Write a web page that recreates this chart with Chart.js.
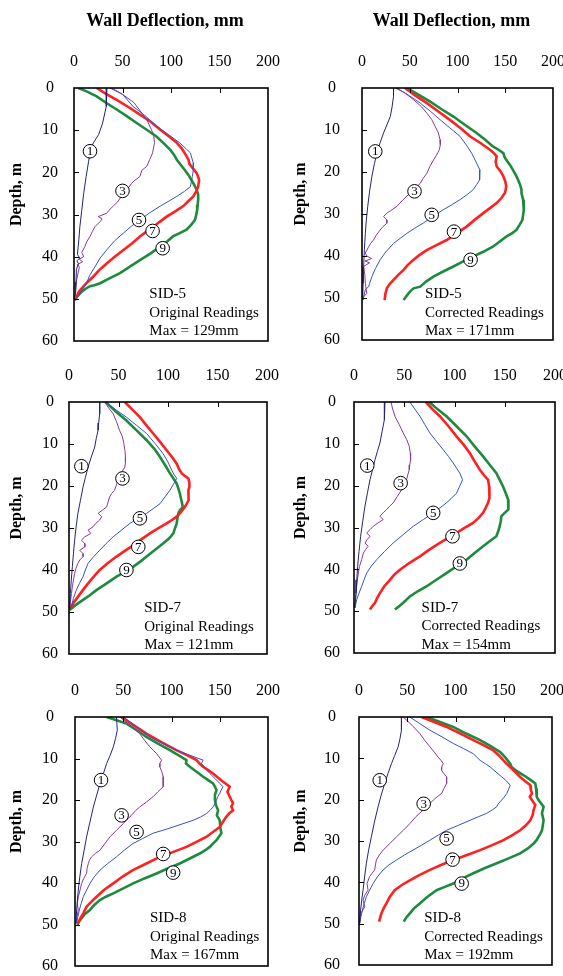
<!DOCTYPE html>
<html>
<head>
<meta charset="utf-8">
<script src="https://cdn.jsdelivr.net/npm/chart.js@4.4.1/dist/chart.umd.min.js"></script>
<style>
  html, body { margin: 0; padding: 0; background: #fff; }
  body { width: 563px; height: 976px; position: relative; overflow: hidden; }
  canvas { position: absolute; }
</style>
</head>
<body>
<canvas id="p1"></canvas>
<canvas id="p2"></canvas>
<canvas id="p3"></canvas>
<canvas id="p4"></canvas>
<canvas id="p5"></canvas>
<canvas id="p6"></canvas>
<script>
// ---- data: [deflection mm, depth m] ----
const curveNames = ['1', '3', '5', '7', '9'];
const xTicks = [0, 50, 100, 150, 200];
const yTicks = [0, 10, 20, 30, 40, 50, 60];

// SID-5 original
const sid5o_c1 = [[34,0],[33.5,2],[33,4.4],[29.5,8.3],[25.5,11],[20,13],[17,14.5],[15,17.5],[12.5,21],[10,25],[8,29],[6,33],[5,36],[3.5,39.5],[6,40.3],[3,41],[4.5,41.6],[2.5,43],[2,46],[1.4,48.7],[0,50]];
const sid5o_c3 = [[37,0],[50,1.5],[62,3.5],[75,7.5],[82,11],[83,13],[81,15.4],[78,17],[75,18.6],[70,19.5],[68,21],[62,22],[59.5,22.6],[55,24],[51,25],[45,27],[40.5,28],[36,29],[33.7,29.7],[25,30.5],[29,31],[27,31.7],[24,32.3],[21.6,32.9],[19,34],[16.5,35.2],[13,36.5],[11.3,37.6],[8,39],[10,40],[5.5,40.6],[9,41.2],[4,41.8],[5.5,42.5],[2.7,45.5],[1.4,49.5]];
const sid5o_c5 = [[39,0],[50,1.5],[61,4.4],[73,6.5],[85,9],[97,11],[109,13],[116,14.5],[120,15.4],[123,17.8],[123,19.5],[122,21],[120,23.4],[114,24.5],[106,25.7],[98,26.8],[89,28],[78,29.6],[68,31.3],[59,32.8],[51,34.4],[42,36.2],[33.7,38.4],[27,40.3],[21.6,42.4],[16,44.5],[13,46.3],[8,48],[6,48.7],[1,50.3]];
const sid5o_c7 = [[23.4,0],[33,1.4],[44,2.8],[56,4.5],[68,6.3],[79,8],[89,9.9],[98,11.5],[106,13],[111,14.3],[114,15.4],[118,17],[119,18],[121,18.6],[126.5,20.2],[129,21.8],[128,23.4],[126,24.5],[123,25.7],[118,26.8],[112.7,28],[104,29.3],[95.5,30.5],[88,31.8],[82,32.9],[75,34],[68,35.2],[60,36.8],[51,38.4],[42,40],[33.7,41.6],[26,43.2],[20,44.7],[14,46],[9.6,47.1],[5,48.3],[2.7,49.5],[0.7,50.3]];
const sid5o_c9 = [[4.5,0],[13,0.8],[23.4,2],[33,3.5],[44,5.1],[54,6.6],[64.6,8.3],[75,9.9],[85,11.5],[92,13],[99,14.6],[103,15.8],[106,17],[110,18.2],[114,19.4],[118,20.6],[121,21.8],[124,23],[126.5,24.1],[128,25.3],[128,26.5],[127.5,27.7],[127,28.9],[126,30.1],[124.7,31.3],[121,32.4],[116,33.6],[109,34.4],[102,35.2],[96,36.4],[89,37.6],[79,39.2],[68,40.8],[58,42.3],[47.4,43.9],[37,45.1],[27,46.3],[21,46.8],[16.5,47],[12,47.6],[8,48.3],[4,49.3],[1,50.3]];
const sid5o_labels = [[16.5,15],[50,24.4],[67,31.3],[81,33.9],[91.4,38]];
const sid5o_note = ['SID-5', 'Original Readings', 'Max = 129mm'];
const sid5o_noteAt = [77.7, 48.9];

// SID-5 corrected
const sid5c_c1 = [[33,0],[33,2],[31.5,4.5],[29.6,6.8],[26,8.8],[22.6,10.7],[19,13],[15.7,15.5],[13,18],[10.4,21],[8,24.5],[6,28.2],[4.5,31.5],[3.5,34.6],[2.5,38.5],[1.7,42.5],[1.2,46.5],[0.7,50.5]];
const sid5c_c3 = [[35,0],[45,1.2],[54,2.8],[62,4.4],[68,6],[73,7.5],[76.5,9.1],[80,10.7],[81.7,12.3],[82,13.5],[81,14.7],[78,16],[75,17.1],[71,18.7],[68,20.3],[64,21.5],[61,22.7],[56,23.8],[50.4,25],[43,26.6],[36.5,28.2],[30,29.2],[26,29.8],[22.6,30.6],[26,31.4],[26,32.2],[22,33],[19,33.8],[15,35],[12,36.2],[9,37],[7,37.8],[3.5,39.3],[5,40],[10,40.6],[3,41.2],[8,41.6],[1.7,42.5],[3,44.5],[3.5,46.5],[5,48.9],[1.7,49.7]];
const sid5c_c5 = [[36.5,0],[48,1.6],[61,3.6],[72,5.6],[82,7.6],[92,9.5],[102.6,11.5],[109,13.5],[114.8,15.5],[117,16.5],[120,17.9],[123.5,19.5],[123.5,20.5],[122.8,21.9],[120,23],[116.5,24.2],[110,25.4],[102.6,26.6],[94,27.8],[85,29],[74,30.6],[64,32.2],[55,33.4],[47,34.6],[40,35.8],[33,37],[25,39],[19,40.9],[14,43],[10.4,44.9],[8,46.5],[7,47.3],[3.5,48],[1,50.5]];
const sid5c_c7 = [[45,0],[56,1.8],[68,3.6],[80,5.6],[92,7.6],[103,9.5],[113,11.5],[124,13.1],[134,14.7],[138,15.5],[141,16.3],[140,17.5],[141,18.7],[145,19.8],[148,21],[150,22.2],[151,23.4],[150.5,24.2],[149.6,25],[146,26.2],[141,27.4],[134,28.6],[127,29.8],[118,31.4],[109.6,33],[99,34.6],[88.7,36.2],[78,37.4],[67.8,38.6],[60,39.8],[54,40.9],[48,42.1],[43.5,43.3],[38,44.5],[33,45.7],[29,46.7],[26,47.7],[24.5,49],[23.7,50.5]];
const sid5c_c9 = [[47,0],[59,1.6],[71,3.2],[83,5],[95.7,6.8],[108,8.8],[120,10.7],[129,12.3],[137,13.9],[143,14.7],[148,15.5],[149,16.3],[151,17.1],[155,18.3],[158,19.5],[161,20.7],[163.5,21.9],[165.5,23],[167,24.2],[167,25],[168.7,26.6],[169.4,29],[168,31.4],[165,32.6],[161.7,33.8],[157,34.6],[151,35.4],[144,36.6],[137,37.8],[127,39],[116.5,40.1],[106,41.3],[95.7,42.5],[85,43.7],[74.8,44.9],[67,46.1],[61,47.3],[54,47.7],[51,48.3],[48.7,48.9],[43.5,50.5]];
const sid5c_labels = [[13.9,15.1],[55,24.6],[73,30.2],[96.3,34.2],[113.7,40.9]];
const sid5c_note = ['SID-5', 'Corrected Readings', 'Max = 171mm'];
const sid5c_noteAt = [66, 49.1];

// SID-7 original
const sid7o_c1 = [[31,0],[31,2.8],[30,5],[29.4,6.7],[27.5,8.7],[26,10.7],[22.5,13.1],[19.3,15.5],[16.5,18],[14.2,20.2],[11.5,23.5],[9,26.5],[7.2,29.7],[5.7,32.9],[4.5,36],[3.4,39.2],[2.3,42.4],[1.4,45.6],[0.7,49.4]];
const sid7o_c3 = [[36,0],[40,1.4],[44.6,2.8],[48,4.7],[51,6.7],[54,8.3],[55.4,9.9],[56.5,11.5],[57,13.1],[57,14.3],[56.4,15.5],[53.5,16.6],[51,17.8],[48.5,19.4],[46,21],[43,21.8],[41,22.6],[39.5,23.8],[38,25],[34,25.7],[29.4,26.5],[33,27.3],[31,28.1],[27,28.9],[24.3,29.7],[19.3,30.5],[22,31.3],[16,32.1],[12.5,32.9],[16,33.7],[16,34.5],[10.8,35.3],[14.2,36.1],[14.2,36.8],[11,37.6],[9,38.4],[7,39.6],[5.7,40.8],[4.5,42.4],[3.4,44],[2.5,45.6],[1.7,47.1],[0.7,49.1]];
const sid7o_c5 = [[37,0],[47,1.8],[58,3.6],[68,5.5],[78.4,7.5],[87,9.9],[95,12.3],[100,14.3],[103.7,16.2],[106,17.2],[108.8,18.2],[105.5,19.6],[102,21],[97,22.6],[92,24.2],[85,25.4],[78.4,26.5],[70,27.7],[61.5,28.9],[53,30.5],[44.6,32.1],[37.5,33.7],[31,35.3],[25,36.8],[19.3,38.4],[16.5,40],[14.2,41.6],[10.5,43.2],[7.4,44.8],[4.5,46.7],[2.4,48.7]];
const sid7o_c7 = [[56.4,0],[64,1.8],[71.6,3.6],[78,5.5],[85,7.5],[92,9.5],[98.6,11.5],[104,13.1],[108.8,14.7],[111,15.9],[113.9,17],[117,17.6],[120.6,18.2],[121.6,19.2],[121.6,20.2],[120.6,21],[121,21.8],[120.6,22.6],[120.6,23.4],[119,24.2],[117,25],[113,26.2],[108.8,27.3],[104,28.1],[98.6,28.9],[90,30.1],[81.8,31.3],[73,32.7],[65,34.1],[56,35.5],[48,36.8],[39,38.4],[31,40],[25,41.6],[19.3,43.2],[14,44.8],[9,46.4],[5,47.7],[1.4,49.1]];
const sid7o_c9 = [[37,0],[47,2.2],[58,4.4],[68,6.7],[78.4,9.1],[86,11.1],[92,13.1],[97,15],[102,17],[105.5,18.2],[108.8,19.4],[110.5,20.6],[112,21.8],[113.5,23.4],[115,25],[112,25.8],[110.5,26.5],[109.5,27.7],[108.8,28.9],[107,30.1],[105.4,31.3],[101,32.5],[95,33.7],[87,35.2],[78.4,36.8],[72,38],[65,39.2],[57,40.4],[48,41.6],[38,43.2],[27.7,44.8],[21,46],[14.2,47.1],[7,48.3],[0.7,49.5]];
const sid7o_labels = [[12.5,15.3],[54,18.2],[71.6,27.7],[70,34.5],[58,40]];
const sid7o_note = ['SID-7', 'Original Readings', 'Max = 121mm'];
const sid7o_noteAt = [76, 49.1];

// SID-7 corrected
const sid7c_c1 = [[30.8,0],[30.5,2],[30,4.2],[28,7],[25.8,9.8],[23.3,11.8],[20.9,13.8],[18.4,16.2],[15.9,18.6],[13.4,21.7],[10.9,24.9],[8.7,28.5],[6.6,32.1],[5,35.7],[3.6,39.3],[2.8,42.5],[2,45.7],[0.7,49.2]];
const sid7c_c3 = [[36.8,0],[38.5,1.7],[40.7,3.4],[45,5.4],[49,7.4],[52.5,9],[55,10.6],[56,12.2],[56.3,13.8],[55.5,15],[55,16.2],[53.5,17.4],[52.3,18.6],[50,19.8],[47.4,21],[43,22.6],[39,24.1],[35.5,24.9],[32.5,25.7],[29,26.5],[25.8,27.3],[29,28.1],[24,28.9],[19.2,29.7],[16,30.5],[12.6,31.3],[16,32.1],[13,32.9],[11,33.7],[14,34.5],[11.5,35.3],[9.3,36.1],[7.6,37.7],[5.5,39.3],[4.3,40.9],[3,43.3],[2,45.7],[1,49.2]];
const sid7c_c5 = [[55.6,0],[60.5,1.7],[65.6,3.4],[70.5,5.4],[75.5,7.4],[82,9.4],[88.7,11.4],[94,13],[98.7,14.6],[102,15.8],[105.3,17],[108,18.6],[105,20.2],[102,21.8],[97,23],[92,24.1],[85.5,25.3],[78.8,26.5],[69,28.1],[59,29.7],[49,31.7],[39,33.7],[30.5,35.7],[22.5,37.7],[17,39.3],[12.6,40.9],[10,42.5],[7.6,44.1],[5,45.7],[2.6,47.3],[1,49.2]];
const sid7c_c7 = [[71.5,0],[78,1.7],[85.4,3.4],[94,5.8],[102,8.2],[109,10.2],[115.2,12.2],[120,14.2],[125.2,16.2],[129,17.4],[133.4,18.6],[134.5,20.2],[135,21.8],[134.5,23],[133.4,24.1],[131,25.3],[128.5,26.5],[124,27.7],[118.5,28.9],[110,30.1],[102,31.3],[94,32.5],[85.4,33.7],[75,35.3],[65.6,36.9],[55,38.5],[45.7,40.1],[40,41.3],[35.8,42.5],[30,44.1],[25.8,45.7],[23,46.9],[20.9,48],[17.5,49],[15.9,49.6]];
const sid7c_c9 = [[74.8,0],[83,1.7],[92,3.4],[102,5.8],[112,8.2],[120,10.6],[128.5,13],[135,15],[141.7,17],[145,18.6],[148.3,20.2],[151,21.8],[153.3,23.3],[154,24.5],[153.3,25.7],[150,26.5],[146.7,27.3],[146,28.5],[145,29.7],[143.5,30.9],[141.7,32.1],[135,33.3],[128.5,34.5],[120,36.1],[112,37.7],[102,39.3],[92,40.9],[82,42.5],[72,44.1],[63,45.3],[55.6,46.5],[52,47.3],[49,48],[45,48.8],[40.7,49.6]];
const sid7c_labels = [[13.2,15.2],[46.4,19.4],[78.8,26.5],[98,32.1],[105.3,38.6]];
const sid7c_note = ['SID-7', 'Corrected Readings', 'Max = 154mm'];
const sid7c_noteAt = [67.2, 49.2];

// SID-8 original
const sid8o_c1 = [[43,0],[43.8,3.2],[42,5.2],[39.7,7.2],[36.5,9.2],[32.8,11.2],[29.5,13.6],[25.9,16],[22.5,18.8],[19,21.7],[15.5,25.3],[12,28.9],[9.5,32.1],[6.9,35.3],[5,38.5],[3.4,41.7],[2.5,44.1],[1.7,46.5],[1,49.7]];
const sid8o_c3 = [[46.5,0],[57,2],[67,4],[72,5.6],[77.6,7.2],[81,8],[84.5,8.8],[87,9.6],[89.7,10.4],[88,11.2],[87.9,12],[90,13.2],[91.4,14.4],[91.4,15.6],[91.4,16.8],[86,18],[81,19.2],[74,20.5],[67,21.7],[63,22.5],[60,23.3],[55,24.5],[50,25.7],[43,27.3],[36.2,28.9],[31,30.5],[25.9,32.1],[21,32.9],[17.2,33.7],[15,34.5],[13.8,35.3],[12.5,36.5],[12,37.7],[9,38.9],[6.9,40.1],[5.2,41.7],[3.5,43.3],[2.4,44.9],[3.4,46.5],[1,49.7]];
const sid8o_c5 = [[50,0],[64,2.4],[77.6,4.8],[91,6.4],[105,8],[119,9.2],[132.8,10.4],[131,11.2],[135,12.4],[139.7,13.6],[145,14.8],[150,16],[153.4,16.8],[151.5,17.6],[150,18.4],[148,19.2],[146.6,20],[145,20.9],[143,21.7],[140,22.5],[136,23.3],[130,24.1],[122.4,24.9],[112,25.7],[101.7,26.5],[91,27.3],[81,28],[70,29.3],[60,30.5],[51,32.1],[43,33.7],[34,35.3],[25.9,36.9],[20,38.5],[15.5,40.1],[12,41.7],[8.6,43.3],[6.5,44.9],[4.5,46.5],[3,48.1],[1.7,49.7]];
const sid8o_c7 = [[48.3,0],[61,2],[74,4],[89,6],[105,8],[116,9.2],[126,10.4],[129,11.2],[132.8,12],[138,12.8],[143,13.6],[148,14.6],[153.4,15.6],[157,16.2],[160.3,16.8],[158,18],[160.3,19.2],[162,20],[163.8,20.8],[162,21.6],[163.8,22.5],[160,23.2],[157,24],[153.5,25.2],[150,26.5],[143,27.7],[136,28.9],[126,30.1],[115.5,31.3],[102,32.5],[88,33.7],[74,35.3],[60,36.9],[49,38.5],[39.7,40.1],[30,41.7],[22.4,43.3],[17,44.5],[12,45.7],[8.6,47.3],[5.5,48.5],[3.4,49.7]];
const sid8o_c9 = [[32.8,0],[43,0.8],[53.4,1.6],[64,3.2],[74,4.8],[86,6.4],[98.3,8],[107,9.2],[115.5,10.4],[115,11.2],[119,12],[126,13.2],[132.8,14.4],[138,15.2],[143,16],[145,16.8],[146.6,17.6],[145,18.8],[145,20],[146,21.2],[148.3,22.5],[147,23.7],[150,24.9],[150.5,26.5],[151.7,28],[149,28.9],[146.6,29.7],[143,30.5],[139.7,31.3],[135,32.1],[129.3,32.9],[119,34.1],[108.6,35.3],[96,36.5],[84.5,37.7],[72,38.9],[60.3,40.1],[50,41.3],[39.7,42.5],[32,43.3],[25.9,44.1],[20,45.3],[15.5,46.5],[10,47.5],[6.9,48.5],[4,49.3],[2.4,50.1]];
const sid8o_labels = [[27,15.2],[48.3,23.7],[63.8,27.7],[91.4,33],[101.7,37.5]];
const sid8o_note = ['SID-8', 'Original Readings', 'Max = 167mm'];
const sid8o_noteAt = [77.6, 48.5];

// SID-8 corrected
const sid8c_c1 = [[44,0],[44,3.2],[42.5,5.2],[40.6,7.2],[37,9.3],[33.6,11.3],[30,13.7],[26.7,16.1],[23,18.9],[19.8,21.7],[16,25.4],[12.8,29],[10,32.2],[7.6,35.4],[5.8,38.7],[4.2,41.9],[2.8,44.3],[1.7,46.7],[0.7,49.9]];
const sid8c_c3 = [[45.8,0],[55,2],[63,4],[68,5.6],[73.5,7.2],[78,8.5],[82,9.7],[85,10.5],[87.3,11.3],[85.6,12.1],[85.6,12.9],[88,13.7],[90.8,14.5],[90.8,15.3],[90.8,16.1],[88,17.3],[85.6,18.5],[81,19.3],[77,20.1],[72,21.3],[66.5,22.5],[59,24.1],[52.7,25.8],[46,27.4],[38.8,29],[32,30.6],[25,32.2],[21,33.4],[18,34.6],[17,35.8],[16.3,37],[13.5,37.8],[11,38.6],[8.3,40.3],[9.4,41.9],[6,43.1],[4.2,44.3],[6,45.9],[3,47.1],[1.4,48.3],[0.7,49.9]];
const sid8c_c5 = [[52.7,0],[63,1.6],[73.5,3.2],[86,4.8],[97.7,6.4],[108,7.6],[118.5,8.9],[122,9.7],[125.5,10.5],[131,11.3],[135.9,12.1],[142,13.3],[148,14.5],[153,15.5],[156.7,16.5],[155,17.5],[153.2,18.5],[150,19.5],[146.3,20.5],[144,21.1],[142.8,21.7],[138,22.5],[132.4,23.3],[124,24.1],[115,25],[103,26.2],[90.8,27.4],[82,28.6],[73.5,29.8],[65,31],[56,32.2],[47,33.4],[38.8,34.6],[31,35.8],[25,37],[19,38.7],[14.6,40.3],[11,41.9],[7.6,43.5],[5.5,45.1],[3.5,46.7],[2,48.3],[0.7,49.9]];
const sid8c_c7 = [[64.8,0],[78,1.2],[90.8,2.4],[105,4],[118.5,5.6],[129,6.8],[139.3,8.1],[145,9.3],[149.7,10.5],[153,11.3],[156.7,12.1],[162,13.3],[167,14.5],[172,15.5],[177.5,16.5],[178,17.5],[179.2,18.5],[177,19.3],[179.2,20.1],[182.7,21.3],[180.9,22.5],[180,23.7],[177.5,25],[173,26.2],[167,27.4],[159,28.6],[149.7,29.8],[138,31],[125.5,32.2],[112,33.4],[97.7,34.6],[85,35.8],[73.5,37],[62,38.3],[52.7,39.5],[44,40.7],[37,41.9],[32,43.5],[28.4,45.1],[25.5,46.3],[23.2,47.5],[22,48.5],[20.8,49.5]];
const sid8c_c9 = [[70,0],[84,1.2],[97.7,2.4],[111,4],[125.5,5.6],[136,7],[146.3,8.5],[152,9.9],[156.7,11.3],[158,12],[160,12.5],[165,13.3],[170.6,14.1],[177,15.1],[182.7,16.1],[183.5,17.3],[184.4,18.5],[184,19.3],[186,20.1],[191.3,21.7],[189.6,23.3],[191.3,25],[190.5,26.2],[189.6,27.4],[188,28.2],[186,29],[184,29.8],[181,30.6],[175,31.8],[167,33],[155,34.2],[142.8,35.4],[130,36.6],[118.5,37.8],[108,39],[97.7,40.3],[89,41.1],[80.4,41.9],[71,43.5],[63,45.1],[57,46.3],[52.7,47.5],[49,48.5],[46.4,49.5]];
const sid8c_labels = [[21.5,15.3],[67,21],[90.8,29.4],[97,34.5],[106.4,40.3]];
const sid8c_note = ['SID-8', 'Corrected Readings', 'Max = 192mm'];
const sid8c_noteAt = [67.6, 48.7];

// ---- look ----
const lineColors = ['#23237e', '#863a96', '#3552c8', '#ff2020', '#1d8a3e'];
const lineWidths = [1, 1, 1, 2.6, 2.6];
const SERIF = '"Liberation Serif", "Times New Roman", serif';
const CLEAR = 'rgba(0,0,0,0)';

// canvas placement and plot-box size for each panel
const panels = [
    { id: 'p1', left: 0,   top: 0,   w: 284, h: 356, axisW: 74, axisH: 88, padR: 16, padB: 15, title: true,
      curves: [sid5o_c1, sid5o_c3, sid5o_c5, sid5o_c7, sid5o_c9], labels: sid5o_labels, note: sid5o_note, noteAt: sid5o_noteAt },
    { id: 'p2', left: 284, top: 0,   w: 290, h: 356, axisW: 78, axisH: 88, padR: 21, padB: 16, title: true,
      curves: [sid5c_c1, sid5c_c3, sid5c_c5, sid5c_c7, sid5c_c9], labels: sid5c_labels, note: sid5c_note, noteAt: sid5c_noteAt },
    { id: 'p3', left: 0,   top: 360, w: 284, h: 310, axisW: 69, axisH: 42, padR: 17, padB: 16, title: false,
      curves: [sid7o_c1, sid7o_c3, sid7o_c5, sid7o_c7, sid7o_c9], labels: sid7o_labels, note: sid7o_note, noteAt: sid7o_noteAt },
    { id: 'p4', left: 284, top: 360, w: 290, h: 310, axisW: 70, axisH: 42, padR: 19, padB: 17, title: false,
      curves: [sid7c_c1, sid7c_c3, sid7c_c5, sid7c_c7, sid7c_c9], labels: sid7c_labels, note: sid7c_note, noteAt: sid7c_noteAt },
    { id: 'p5', left: 0,   top: 670, w: 284, h: 306, axisW: 75, axisH: 47, padR: 16, padB: 10, title: false,
      curves: [sid8o_c1, sid8o_c3, sid8o_c5, sid8o_c7, sid8o_c9], labels: sid8o_labels, note: sid8o_note, noteAt: sid8o_noteAt },
    { id: 'p6', left: 284, top: 670, w: 290, h: 306, axisW: 75, axisH: 47, padR: 22, padB: 11, title: false,
      curves: [sid8c_c1, sid8c_c3, sid8c_c5, sid8c_c7, sid8c_c9], labels: sid8c_labels, note: sid8c_note, noteAt: sid8c_noteAt }
];

// frame, inner ticks, titles, circled curve numbers and the note block
const panelDecor = {
    id: 'panelDecor',
    afterDatasetsDraw(chart, args, opts) {
        const { ctx, chartArea: a, scales: { x, y } } = chart;
        ctx.save();

        // inner tick marks
        ctx.strokeStyle = '#000';
        ctx.lineWidth = 1;
        ctx.beginPath();
        xTicks.slice(1, -1).forEach(v => {
            const px = Math.round(x.getPixelForValue(v)) + 0.5;
            ctx.moveTo(px, a.top); ctx.lineTo(px, a.top + 5);
        });
        yTicks.slice(1, -1).forEach(v => {
            const py = Math.round(y.getPixelForValue(v)) + 0.5;
            ctx.moveTo(a.left, py); ctx.lineTo(a.left + 5, py);
        });
        ctx.stroke();

        // frame
        ctx.lineWidth = 1.6;
        ctx.strokeRect(a.left, a.top, a.right - a.left, a.bottom - a.top);

        // circled curve numbers
        ctx.font = '13px ' + SERIF;
        ctx.textAlign = 'center';
        ctx.textBaseline = 'middle';
        ctx.lineWidth = 1;
        opts.labels.forEach((p, i) => {
            const cx = x.getPixelForValue(p[0]);
            const cy = y.getPixelForValue(p[1]);
            ctx.beginPath();
            ctx.arc(cx, cy, 6.8, 0, Math.PI * 2);
            ctx.fillStyle = '#fff';
            ctx.fill();
            ctx.strokeStyle = '#000';
            ctx.stroke();
            ctx.fillStyle = '#000';
            ctx.fillText(curveNames[i], cx, cy + 0.5);
        });

        // note block
        ctx.font = '15px ' + SERIF;
        ctx.textAlign = 'left';
        const nx = x.getPixelForValue(opts.noteAt[0]);
        const ny = y.getPixelForValue(opts.noteAt[1]);
        opts.note.forEach((t, i) => ctx.fillText(t, nx, ny + i * 18.6));

        // axis titles
        ctx.font = 'bold 16px ' + SERIF;
        ctx.save();
        ctx.translate(17, (a.top + a.bottom) / 2 - 20);
        ctx.rotate(-Math.PI / 2);
        ctx.textAlign = 'center';
        ctx.fillText('Depth, m', 0, 0);
        ctx.restore();
        if (opts.title) {
            ctx.font = 'bold 18px ' + SERIF;
            ctx.textAlign = 'center';
            ctx.fillText('Wall Deflection, mm', (a.left + a.right) / 2 - 6, a.top - 67);
        }
        ctx.restore();
    }
};

function buildPanel(p) {
    const canvas = document.getElementById(p.id);
    canvas.width = p.w;
    canvas.height = p.h;
    canvas.style.left = p.left + 'px';
    canvas.style.top = p.top + 'px';
    const labelCx = p.left === 0 ? 50 : 48;

    const datasets = p.curves.map((c, i) => ({
        label: curveNames[i],
        data: c.map(pt => ({ x: pt[0], y: pt[1] })),
        showLine: true,
        borderColor: lineColors[i],
        backgroundColor: lineColors[i],
        borderWidth: lineWidths[i],
        pointRadius: 0,
        tension: 0,
        fill: false
    }));

    return new Chart(canvas, {
        type: 'scatter',
        data: { datasets },
        plugins: [panelDecor],
        options: {
            responsive: false,
            animation: false,
            events: [],
            layout: { padding: { left: 0, top: 0, right: p.padR, bottom: p.padB } },
            plugins: {
                legend: { display: false },
                tooltip: { enabled: false },
                panelDecor: { labels: p.labels, note: p.note, noteAt: p.noteAt, title: p.title }
            },
            scales: {
                x: {
                    type: 'linear',
                    position: 'top',
                    min: 0, max: 200,
                    afterBuildTicks: s => { s.ticks = xTicks.map(v => ({ value: v })); },
                    afterFit: s => { s.height = p.axisH; },
                    // invisible tick marks give the label offset without widening the padding
                    grid: { display: true, drawOnChartArea: false, drawTicks: true, tickLength: 17,
                            color: CLEAR, tickColor: CLEAR },
                    border: { display: false },
                    ticks: { color: '#000', padding: 0, maxRotation: 0,
                             font: { family: SERIF, size: 16 } }
                },
                y: {
                    type: 'linear',
                    reverse: true,
                    min: 0, max: 60,
                    afterBuildTicks: s => { s.ticks = yTicks.map(v => ({ value: v })); },
                    afterFit: s => { s.width = p.axisW; },
                    grid: { display: true, drawOnChartArea: false, drawTicks: true,
                            tickLength: p.axisW - labelCx - 8, color: CLEAR, tickColor: CLEAR },
                    border: { display: false },
                    ticks: { color: '#000', crossAlign: 'center', padding: 0,
                             font: { family: SERIF, size: 16 } }
                }
            }
        }
    });
}

panels.forEach(buildPanel);
</script>
</body>
</html>
